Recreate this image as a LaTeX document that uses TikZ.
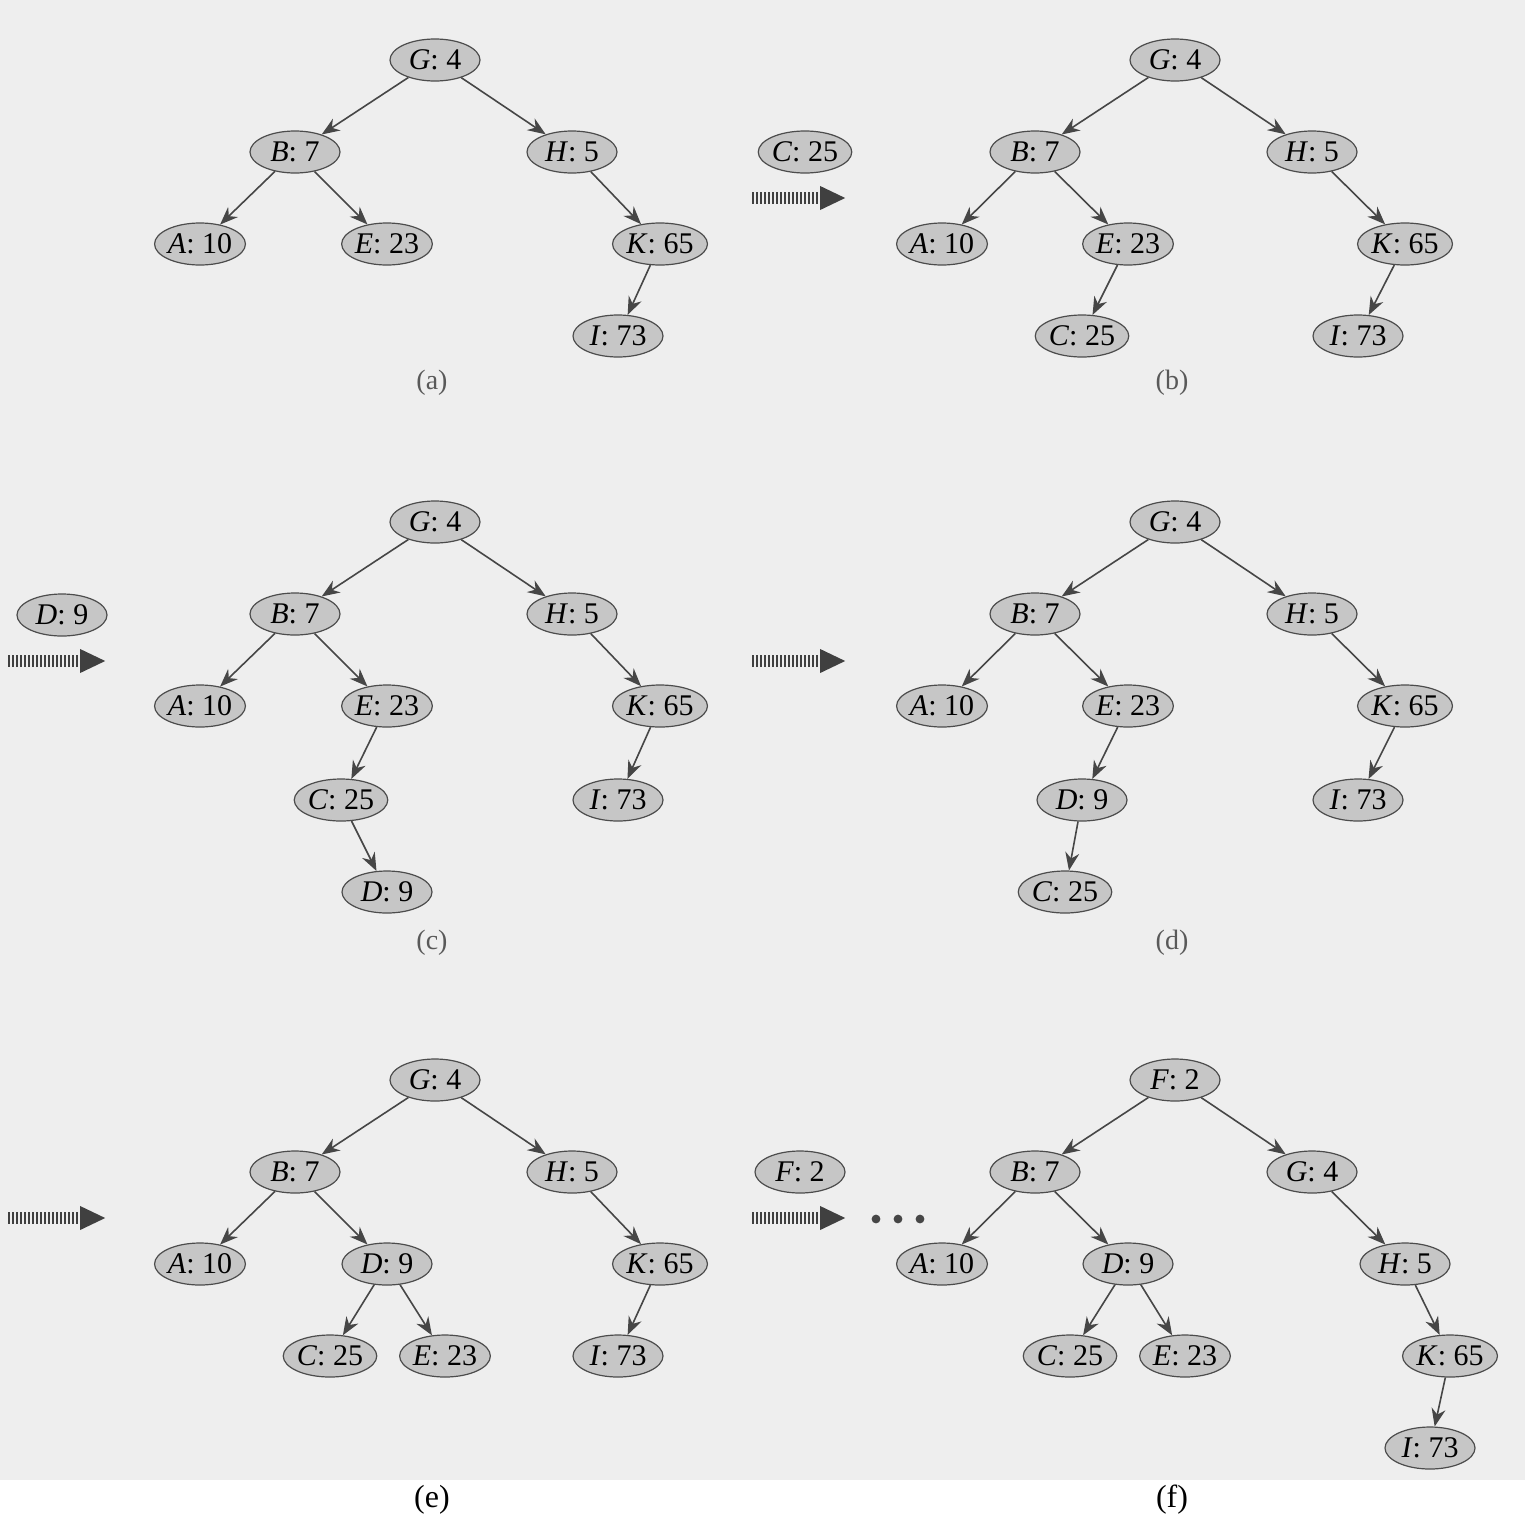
\documentclass[tikz,border=0pt]{standalone}
\usepackage{fontspec}
\setmainfont{Liberation Serif}
\usetikzlibrary{shapes.geometric,arrows.meta}

\tikzset{
  key/.style={ellipse, draw=gray!60!black, fill=gray!45, line width=0.6pt,
    minimum width=45pt, minimum height=21pt, inner sep=0pt,
    font=\fontsize{15}{18}\selectfont},
  link/.style={-{Stealth[length=9pt 0,width=7pt 0]}, draw=gray!55!black, line width=0.8pt},
  moveto/.style={draw=gray!50!black, line width=6pt, dash pattern=on 1pt off 1pt,
    -{Triangle[length=13pt 0,width=11pt 0]}},
  caption/.style={font=\fontsize{14}{16}\selectfont},
}
\newcommand{\kv}[2]{\textit{#1}: #2}

\begin{document}
\begin{tikzpicture}[x=0.5pt,y=-0.5pt]
\useasboundingbox (0,0) rectangle (1525,1515);
\fill[gray!13] (0,0) rectangle (1525,1480);

% (a) initial tree
\begin{scope}
\node[key] (aG) at (435,60) {\kv{G}{4}};
\node[key] (aB) at (295,152) {\kv{B}{7}};
\node[key] (aH) at (572,152) {\kv{H}{5}};
\node[key] (aA) at (200,244) {\kv{A}{10}};
\node[key] (aE) at (387,244) {\kv{E}{23}};
\node[key] (aK) at (660,244) {\kv{K}{65}};
\node[key] (aI) at (618,336) {\kv{I}{73}};
\draw[link] (aG) -- (aB);
\draw[link] (aG) -- (aH);
\draw[link] (aB) -- (aA);
\draw[link] (aB) -- (aE);
\draw[link] (aH) -- (aK);
\draw[link] (aK) -- (aI);
\node[caption, text=gray!70!black] (acap) at (432,383) {(a)};
\end{scope}

% insert C
\node[key] (newC) at (805,152) {\kv{C}{25}};
\coordinate (ab0) at (752,198);
\coordinate (ab1) at (846,198);
\draw[moveto] (ab0) -- (ab1);

% (b)
\begin{scope}[shift={(740,0)}]
\node[key] (bG) at (435,60) {\kv{G}{4}};
\node[key] (bB) at (295,152) {\kv{B}{7}};
\node[key] (bH) at (572,152) {\kv{H}{5}};
\node[key] (bA) at (202,244) {\kv{A}{10}};
\node[key] (bE) at (388,244) {\kv{E}{23}};
\node[key] (bK) at (665,244) {\kv{K}{65}};
\node[key] (bC) at (342,336) {\kv{C}{25}};
\node[key] (bI) at (618,336) {\kv{I}{73}};
\draw[link] (bG) -- (bB);
\draw[link] (bG) -- (bH);
\draw[link] (bB) -- (bA);
\draw[link] (bB) -- (bE);
\draw[link] (bE) -- (bC);
\draw[link] (bH) -- (bK);
\draw[link] (bK) -- (bI);
\node[caption, text=gray!70!black] (bcap) at (432,383) {(b)};
\end{scope}

% insert D
\node[key] (newD) at (62,615) {\kv{D}{9}};
\coordinate (cd0) at (8,661);
\coordinate (cd1) at (106,661);
\draw[moveto] (cd0) -- (cd1);

% (c)
\begin{scope}[shift={(0,462)}]
\node[key] (cG) at (435,60) {\kv{G}{4}};
\node[key] (cB) at (295,152) {\kv{B}{7}};
\node[key] (cH) at (572,152) {\kv{H}{5}};
\node[key] (cA) at (200,244) {\kv{A}{10}};
\node[key] (cE) at (387,244) {\kv{E}{23}};
\node[key] (cK) at (660,244) {\kv{K}{65}};
\node[key] (cC) at (341,338) {\kv{C}{25}};
\node[key] (cI) at (618,338) {\kv{I}{73}};
\node[key] (cD) at (387,430) {\kv{D}{9}};
\draw[link] (cG) -- (cB);
\draw[link] (cG) -- (cH);
\draw[link] (cB) -- (cA);
\draw[link] (cB) -- (cE);
\draw[link] (cE) -- (cC);
\draw[link] (cC) -- (cD);
\draw[link] (cH) -- (cK);
\draw[link] (cK) -- (cI);
\node[caption, text=gray!70!black] (ccap) at (432,481) {(c)};
\end{scope}

\coordinate (dd0) at (752,661);
\coordinate (dd1) at (846,661);
\draw[moveto] (dd0) -- (dd1);

% (d) rotate D above C
\begin{scope}[shift={(740,462)}]
\node[key] (dG) at (435,60) {\kv{G}{4}};
\node[key] (dB) at (295,152) {\kv{B}{7}};
\node[key] (dH) at (572,152) {\kv{H}{5}};
\node[key] (dA) at (202,244) {\kv{A}{10}};
\node[key] (dE) at (388,244) {\kv{E}{23}};
\node[key] (dK) at (665,244) {\kv{K}{65}};
\node[key] (dD) at (342,338) {\kv{D}{9}};
\node[key] (dI) at (618,338) {\kv{I}{73}};
\node[key] (dC) at (325,430) {\kv{C}{25}};
\draw[link] (dG) -- (dB);
\draw[link] (dG) -- (dH);
\draw[link] (dB) -- (dA);
\draw[link] (dB) -- (dE);
\draw[link] (dE) -- (dD);
\draw[link] (dD) -- (dC);
\draw[link] (dH) -- (dK);
\draw[link] (dK) -- (dI);
\node[caption, text=gray!70!black] (dcap) at (432,481) {(d)};
\end{scope}

\coordinate (ed0) at (8,1218);
\coordinate (ed1) at (106,1218);
\draw[moveto] (ed0) -- (ed1);

% (e) rotate D above E
\begin{scope}[shift={(0,1020)}]
\node[key] (eG) at (435,60) {\kv{G}{4}};
\node[key] (eB) at (295,152) {\kv{B}{7}};
\node[key] (eH) at (572,152) {\kv{H}{5}};
\node[key] (eA) at (200,244) {\kv{A}{10}};
\node[key] (eD) at (387,244) {\kv{D}{9}};
\node[key] (eK) at (660,244) {\kv{K}{65}};
\node[key] (eC) at (330,336) {\kv{C}{25}};
\node[key] (eE) at (445,336) {\kv{E}{23}};
\node[key] (eI) at (618,336) {\kv{I}{73}};
\draw[link] (eG) -- (eB);
\draw[link] (eG) -- (eH);
\draw[link] (eB) -- (eA);
\draw[link] (eB) -- (eD);
\draw[link] (eD) -- (eC);
\draw[link] (eD) -- (eE);
\draw[link] (eH) -- (eK);
\draw[link] (eK) -- (eI);
\node[caption, font=\fontsize{16}{18}\selectfont] (ecap) at (432,480) {(e)};
\end{scope}

% insert F
\node[key] (newF) at (800,1172) {\kv{F}{2}};
\coordinate (fd0) at (752,1218);
\coordinate (fd1) at (846,1218);
\draw[moveto] (fd0) -- (fd1);
\foreach \x in {876,898,920}
  \fill[gray!55!black] (\x,1219) circle (2.2pt);

% (f)
\begin{scope}[shift={(740,1020)}]
\node[key] (fF) at (435,60) {\kv{F}{2}};
\node[key] (fB) at (295,152) {\kv{B}{7}};
\node[key] (fG) at (572,152) {\kv{G}{4}};
\node[key] (fA) at (202,244) {\kv{A}{10}};
\node[key] (fD) at (388,244) {\kv{D}{9}};
\node[key] (fH) at (665,244) {\kv{H}{5}};
\node[key] (fC) at (330,336) {\kv{C}{25}};
\node[key] (fE) at (445,336) {\kv{E}{23}};
\node[key] (fK) at (710,336) {\kv{K}{65}};
\node[key] (fI) at (690,428) {\kv{I}{73}};
\draw[link] (fF) -- (fB);
\draw[link] (fF) -- (fG);
\draw[link] (fB) -- (fA);
\draw[link] (fB) -- (fD);
\draw[link] (fD) -- (fC);
\draw[link] (fD) -- (fE);
\draw[link] (fG) -- (fH);
\draw[link] (fH) -- (fK);
\draw[link] (fK) -- (fI);
\node[caption, font=\fontsize{16}{18}\selectfont] (fcap) at (432,480) {(f)};
\end{scope}
\end{tikzpicture}
\end{document}
